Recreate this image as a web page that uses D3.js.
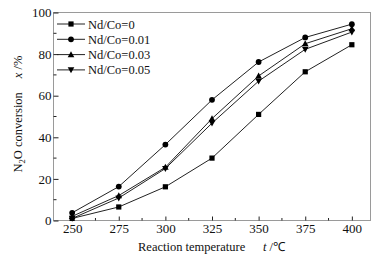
<!DOCTYPE html>
<html><head><meta charset="utf-8">
<script src="https://cdn.jsdelivr.net/npm/d3@7"></script>
<style>body{margin:0;background:#fff}svg{display:block}text{font-family:"Liberation Serif","Times New Roman",serif;fill:#111}</style>
</head><body><svg id="c" width="382" height="262"></svg>
<script>
const temps = [250, 275, 300, 325, 350, 375, 400];
const seriesNames = ["Nd/Co=0", "Nd/Co=0.01", "Nd/Co=0.03", "Nd/Co=0.05"];
const s0 = [1, 6.5, 16.2, 30, 51, 71.5, 84.5];
const s001 = [3.7, 16.3, 36.5, 58, 76.2, 88, 94.4];
const s003 = [2, 12, 25.6, 49, 69.5, 85, 92.2];
const s005 = [1, 10.8, 25, 46.8, 67, 82.3, 90.6];
const markers = ["square", "circle", "triangle", "triangleDown"];
const xTicks = [250, 275, 300, 325, 350, 375, 400];
const yTicks = [0, 20, 40, 60, 80, 100];

const svg = d3.select("#c");
const L = 53.5, R = 370.5, T = 12.5, B = 220.5;
const x = d3.scaleLinear().domain([240, 410]).range([L, R]);
const y = d3.scaleLinear().domain([0, 100]).range([B, T]);

// frame
svg.append("rect").attr("x", L).attr("y", T).attr("width", R - L).attr("height", B - T)
  .attr("fill", "none").attr("stroke", "#9a9a9a").attr("stroke-width", 1);

// x axis ticks (inward)
const xMinor = d3.range(262.5, 410, 25);
svg.append("g").attr("transform", `translate(0,${B})`)
  .call(d3.axisBottom(x).tickValues(xTicks).tickSizeInner(-4).tickSizeOuter(0).tickPadding(3))
  .call(g => { g.select(".domain").remove(); g.selectAll("line").attr("stroke", "#222");
    g.attr("font-family", null);
    g.selectAll("text").attr("font-size", 13).attr("fill", "#111"); });
svg.append("g").selectAll("line").data(xMinor).join("line")
  .attr("x1", d => x(d)).attr("x2", d => x(d)).attr("y1", B).attr("y2", B - 2.5).attr("stroke", "#222");

// y axis ticks (inward)
svg.append("g").attr("transform", `translate(${L},0)`)
  .call(d3.axisLeft(y).tickValues(yTicks).tickSizeInner(-5).tickSizeOuter(0).tickPadding(2))
  .call(g => { g.select(".domain").remove(); g.selectAll("line").attr("stroke", "#222");
    g.attr("font-family", null);
    g.selectAll("text").attr("font-size", 13).attr("fill", "#111"); });
svg.append("g").selectAll("line").data(d3.range(10, 100, 20)).join("line")
  .attr("x1", L).attr("x2", L + 3).attr("y1", d => y(d)).attr("y2", d => y(d)).attr("stroke", "#222");

const all = [s0, s001, s003, s005];
const line = d3.line().x((d, i) => x(temps[i])).y(d => y(d));

function drawMarker(g, type, cx, cy) {
  if (type === "square") g.append("rect").attr("x", cx - 2.6).attr("y", cy - 2.6).attr("width", 5.2).attr("height", 5.2).attr("fill", "#000");
  else if (type === "circle") g.append("circle").attr("cx", cx).attr("cy", cy).attr("r", 2.9).attr("fill", "#000");
  else if (type === "triangle") g.append("path").attr("d", `M${cx},${cy - 3.4}L${cx + 3.3},${cy + 2.6}L${cx - 3.3},${cy + 2.6}Z`).attr("fill", "#000");
  else g.append("path").attr("d", `M${cx},${cy + 3.4}L${cx + 3.3},${cy - 2.6}L${cx - 3.3},${cy - 2.6}Z`).attr("fill", "#000");
}

all.forEach((s, k) => {
  svg.append("path").datum(s).attr("d", line).attr("fill", "none").attr("stroke", "#222").attr("stroke-width", 1);
  const g = svg.append("g");
  s.forEach((v, i) => drawMarker(g, markers[k], x(temps[i]), y(v)));
});

// legend
seriesNames.forEach((n, k) => {
  const ly = 24 + k * 15.3;
  svg.append("line").attr("x1", 57).attr("x2", 85).attr("y1", ly).attr("y2", ly).attr("stroke", "#222");
  drawMarker(svg.append("g"), markers[k], 71, ly);
  svg.append("text").attr("x", 88).attr("y", ly + 4.5).attr("font-size", 12.5).text(n);
});

// axis titles
const yl = svg.append("text").attr("transform", "translate(22,114) rotate(-90)")
  .attr("text-anchor", "middle").attr("font-size", 12.5);
yl.append("tspan").text("N");
yl.append("tspan").attr("font-size", 8.5).attr("dy", 3).text("2");
yl.append("tspan").attr("dy", -3).text("O conversion");
yl.append("tspan").attr("dx", 14).attr("font-style", "italic").text("x");
yl.append("tspan").text(" /%");

const xl = svg.append("text").attr("x", 138).attr("y", 251).attr("font-size", 12.5);
xl.append("tspan").text("Reaction temperature");
xl.append("tspan").attr("x", 263).attr("font-style", "italic").text("t");
xl.append("tspan").text(" /℃");
</script></body></html>
